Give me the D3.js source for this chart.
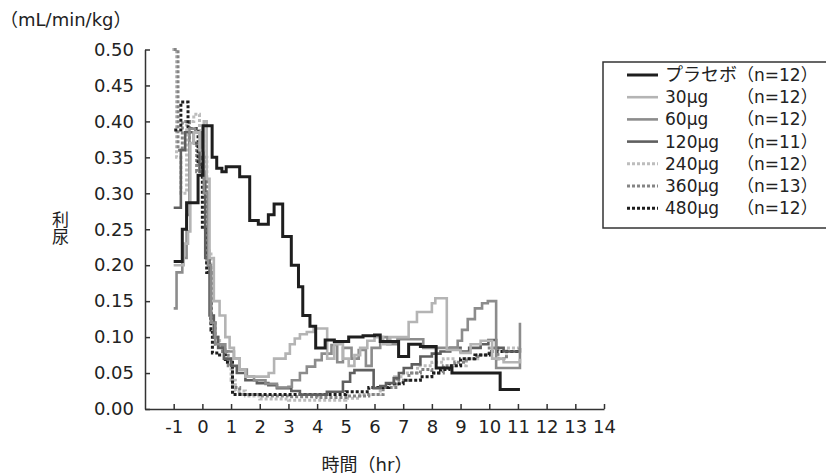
<html>

<head>
    <script src="https://d3js.org/d3.v7.min.js"></script>
    <style>
        body { margin: 0; background: #fff; }
        text { font-family: "DejaVu Sans", "Noto Sans CJK JP", sans-serif; fill: #222; }
    </style>
</head>

<body>
    <svg id="chart" width="826" height="475"></svg>
    <script>

        // step data: [time (hr), urine flow (mL/min/kg)], value holds until next time
        const placebo = [[-1.0, 0.205], [-0.7, 0.25], [-0.55, 0.287], [-0.15, 0.325], [0.02, 0.394], [0.34, 0.35], [0.5, 0.335],
        [0.68, 0.33], [0.83, 0.337], [1.3, 0.323], [1.65, 0.262], [1.95, 0.257], [2.3, 0.27], [2.5, 0.285], [2.8, 0.24],
        [3.1, 0.2], [3.35, 0.17], [3.5, 0.13], [3.75, 0.115], [3.95, 0.085], [4.28, 0.096], [4.6, 0.094], [5.1, 0.1],
        [5.6, 0.102], [6.0, 0.103], [6.2, 0.094], [6.84, 0.073], [7.19, 0.09], [7.6, 0.087], [8.15, 0.057], [8.7, 0.05],
        [10.38, 0.027], [11.07, 0.027]]
        const dose30 = [[-1.0, 0.2], [-0.75, 0.2], [-0.65, 0.23], [-0.5, 0.247], [-0.42, 0.37], [-0.3, 0.385], [-0.1, 0.36],
        [0.05, 0.4], [0.15, 0.32], [0.25, 0.21], [0.4, 0.15], [0.6, 0.13], [0.8, 0.1], [0.95, 0.085], [1.1, 0.07], [1.3, 0.055],
        [1.5, 0.045], [2.31, 0.05], [2.5, 0.07], [2.9, 0.077], [3.05, 0.09], [3.22, 0.098], [3.4, 0.104], [3.64, 0.107],
        [3.88, 0.112], [4.35, 0.07], [4.6, 0.09], [4.9, 0.07], [5.1, 0.06], [5.3, 0.075], [5.5, 0.085], [5.75, 0.095],
        [6.0, 0.1], [6.3, 0.09], [6.55, 0.1], [7.19, 0.121], [7.48, 0.135], [8.0, 0.147], [8.12, 0.154], [8.52, 0.082],
        [9.0, 0.078], [9.35, 0.09], [9.7, 0.095], [10.1, 0.07], [10.5, 0.065], [11.07, 0.07]]
        const dose60 = [[-1.0, 0.14], [-0.9, 0.19], [-0.7, 0.21], [-0.55, 0.27], [-0.45, 0.39], [-0.25, 0.385], [-0.05, 0.36],
        [0.05, 0.3], [0.2, 0.2], [0.3, 0.12], [0.45, 0.09], [0.8, 0.08], [1.1, 0.07], [1.3, 0.055], [1.55, 0.045], [1.8, 0.04],
        [2.2, 0.035], [2.6, 0.03], [3.0, 0.031], [3.12, 0.04], [3.4, 0.05], [3.64, 0.059], [3.93, 0.068], [4.16, 0.077],
        [4.5, 0.089], [4.7, 0.065], [4.9, 0.085], [5.2, 0.07], [5.45, 0.082], [5.7, 0.06], [5.9, 0.085], [6.2, 0.1],
        [6.45, 0.09], [6.8, 0.097], [7.5, 0.097], [7.7, 0.085], [8.4, 0.085], [8.9, 0.095], [9.05, 0.11], [9.25, 0.125],
        [9.5, 0.14], [9.75, 0.147], [9.95, 0.15], [10.24, 0.057], [11.07, 0.12]]
        const dose120 = [[-1.0, 0.28], [-0.75, 0.36], [-0.6, 0.385], [-0.3, 0.37], [-0.1, 0.33], [0.1, 0.21], [0.25, 0.13],
        [0.4, 0.1], [0.55, 0.085], [0.75, 0.07], [1.0, 0.06], [1.2, 0.05], [1.5, 0.04], [1.9, 0.036], [2.3, 0.033],
        [2.6, 0.029], [3.1, 0.025], [3.4, 0.02], [4.34, 0.024], [4.9, 0.038], [5.15, 0.05], [5.3, 0.054], [5.97, 0.029],
        [6.2, 0.032], [6.4, 0.036], [6.67, 0.043], [6.85, 0.05], [7.02, 0.057], [7.3, 0.062], [7.6, 0.073], [8.0, 0.077],
        [8.3, 0.08], [8.64, 0.085], [9.0, 0.08], [9.3, 0.085], [9.7, 0.09], [9.97, 0.096], [10.24, 0.085], [10.5, 0.08],
        [11.07, 0.085]]
        const dose240 = [[-1.05, 0.5], [-0.9, 0.35], [-0.75, 0.3], [-0.55, 0.4], [-0.3, 0.41], [-0.1, 0.38], [0.05, 0.32],
        [0.2, 0.22], [0.3, 0.12], [0.45, 0.1], [0.6, 0.085], [0.8, 0.07], [1.0, 0.04], [1.15, 0.025], [1.5, 0.018],
        [2.0, 0.014], [3.0, 0.012], [4.0, 0.012], [5.0, 0.015], [5.5, 0.02], [6.2, 0.03], [6.7, 0.045], [7.0, 0.05],
        [7.5, 0.06], [8.0, 0.065], [8.4, 0.07], [8.8, 0.06], [9.2, 0.07], [9.6, 0.075], [10.0, 0.08], [10.3, 0.07],
        [10.6, 0.085], [11.07, 0.085]]
        const dose360 = [[-1.0, 0.5], [-0.85, 0.36], [-0.7, 0.4], [-0.45, 0.37], [-0.2, 0.33], [0.0, 0.35], [0.15, 0.2],
        [0.3, 0.12], [0.45, 0.09], [0.7, 0.08], [0.9, 0.06], [1.05, 0.03], [1.3, 0.02], [2.0, 0.018], [3.0, 0.017],
        [4.0, 0.016], [5.0, 0.018], [5.8, 0.02], [6.3, 0.03], [6.8, 0.04], [7.2, 0.05], [7.6, 0.055], [8.0, 0.05],
        [8.4, 0.06], [8.8, 0.065], [9.2, 0.07], [9.6, 0.075], [10.0, 0.085], [10.3, 0.07], [10.6, 0.08], [11.07, 0.08]]
        const dose480 = [[-0.98, 0.388], [-0.75, 0.427], [-0.5, 0.39], [-0.15, 0.34], [0.0, 0.25], [0.15, 0.19], [0.3, 0.11],
        [0.35, 0.078], [0.6, 0.075], [0.8, 0.065], [1.05, 0.02], [2.0, 0.02], [3.0, 0.02], [4.0, 0.02], [5.0, 0.024],
        [5.8, 0.03], [6.5, 0.035], [7.0, 0.04], [7.6, 0.045], [8.0, 0.05], [8.3, 0.055], [8.6, 0.06], [9.0, 0.07],
        [9.5, 0.075], [10.0, 0.08], [11.07, 0.08]]

        const seriesNames = ["プラセボ", "30μg", "60μg", "120μg", "240μg", "360μg", "480μg"]
        const seriesN = ["（n=12）", "（n=12）", "（n=12）", "（n=11）", "（n=12）", "（n=13）", "（n=12）"]
        const seriesData = [placebo, dose30, dose60, dose120, dose240, dose360, dose480]
        const xTicks = [-1, 0, 1, 2, 3, 4, 5, 6, 7, 8, 9, 10, 11, 12, 13, 14]
        const yTicks = [0, 0.05, 0.1, 0.15, 0.2, 0.25, 0.3, 0.35, 0.4, 0.45, 0.5]

        const styles = [
            { color: "#1e1e1e", width: 3, dash: null },
            { color: "#b4b4b4", width: 2.6, dash: null },
            { color: "#8c8c8c", width: 2.6, dash: null },
            { color: "#5f5f5f", width: 2.6, dash: null },
            { color: "#bdbdbd", width: 3, dash: "3,2" },
            { color: "#858585", width: 3, dash: "3,2" },
            { color: "#1e1e1e", width: 3, dash: "3,2" }
        ]

        const svg = d3.select("#chart")
        const x = d3.scaleLinear().domain([-2, 14]).range([145, 604])
        const y = d3.scaleLinear().domain([0, 0.5]).range([409, 49.5])

        // lines, placebo on top
        const line = d3.line().x(d => x(d[0])).y(d => y(d[1])).curve(d3.curveStepAfter)
        const order = [4, 5, 6, 3, 2, 1, 0]
        order.forEach(i => {
            svg.append("path").datum(seriesData[i])
                .attr("d", line)
                .style("fill", "none")
                .style("stroke", styles[i].color)
                .style("stroke-width", styles[i].width)
                .style("stroke-dasharray", styles[i].dash)
        })

        // axes
        svg.append("g").attr("transform", "translate(145,0)")
            .call(d3.axisLeft(y).tickValues(yTicks).tickFormat(d3.format(".2f")).tickSize(-5).tickSizeOuter(0).tickPadding(11))
        svg.append("g").attr("transform", "translate(0,409)")
            .call(d3.axisBottom(x).tickValues(xTicks).tickFormat(d => String(d)).tickSize(-5).tickSizeOuter(0).tickPadding(11))
        svg.selectAll(".domain, .tick line").style("stroke", "#333").style("stroke-width", 1.5)
        svg.selectAll(".tick text").style("font-size", "18px").style("font-family", "'DejaVu Sans', sans-serif").style("fill", "#222")

        svg.append("text").attr("x", 0).attr("y", 26).style("font-size", "18px").text("（mL/min/kg）")
        svg.append("text").attr("x", 59).attr("y", 211).style("font-size", "17px")
            .style("writing-mode", "vertical-rl").text("利尿")
        svg.append("text").attr("x", 367).attr("y", 471).attr("text-anchor", "middle").style("font-size", "18px").text("時間（hr）")

        // legend
        svg.append("rect").attr("x", 603).attr("y", 62).attr("width", 240).attr("height", 166)
            .style("fill", "white").style("stroke", "#333").style("stroke-width", 1.5)
        seriesNames.forEach((name, i) => {
            const ly = 75 + i * 22.2
            svg.append("line").attr("x1", 627).attr("x2", 658).attr("y1", ly).attr("y2", ly)
                .style("stroke", styles[i].color).style("stroke-width", styles[i].width)
                .style("stroke-dasharray", styles[i].dash)
            svg.append("text").attr("x", 665).attr("y", ly + 6).style("font-size", i === 0 ? "18px" : "17px").text(name)
            svg.append("text").attr("x", 737).attr("y", ly + 6).style("font-size", "17px").text(seriesN[i])
        })

    </script>
</body>

</html>
